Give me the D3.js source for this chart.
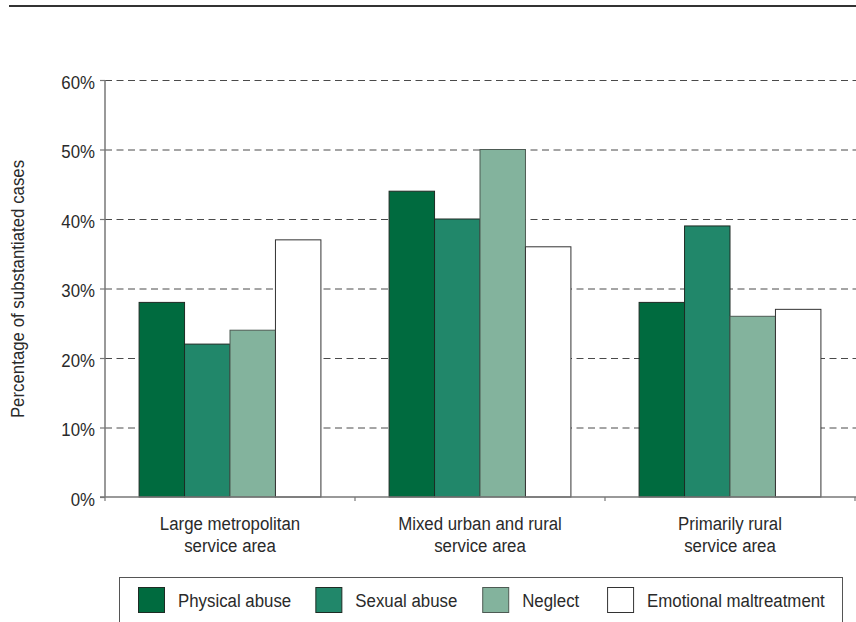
<!DOCTYPE html>
<html><head><meta charset="utf-8">
<script src="https://cdn.jsdelivr.net/npm/d3@7"></script>
<style>
body{margin:0;background:#fff;}
svg{display:block;}
text{font-family:"Liberation Sans",Arial,Helvetica,sans-serif;fill:#2a2a2a;}
</style></head><body>
<svg id="chart" width="856" height="622"></svg>
<script>
// ---- data ----
const categories = ["Large metropolitan|service area", "Mixed urban and rural|service area", "Primarily rural|service area"];
const seriesNames = ["Physical abuse", "Sexual abuse", "Neglect", "Emotional maltreatment"];
const physicalAbuse = [28, 44, 28];
const sexualAbuse = [22, 40, 39];
const neglect = [24, 50, 26];
const emotionalMaltreatment = [37, 36, 27];
const yTicks = [0, 10, 20, 30, 40, 50, 60];
const yTitle = "Percentage of substantiated cases";
const seriesColors = ["#006b3f", "#21876a", "#83b39d", "#ffffff"];
const seriesStrokes = ["#1e2b24", "#1e2b24", "#4d5a53", "#333333"];

const seriesValues = [physicalAbuse, sexualAbuse, neglect, emotionalMaltreatment];

const FS = 18, SQ = 0.935;
function condense(sel) {
  sel.each(function() {
    const L = this.getComputedTextLength();
    d3.select(this).attr("textLength", L * SQ).attr("lengthAdjust", "spacingAndGlyphs");
  });
}

const svg = d3.select("#chart");
const W = 856, H = 622;
const m = {left: 105, right: 1, top: 80, bottom: 497};

const x0 = d3.scaleBand().domain(d3.range(categories.length)).range([m.left, W - m.right]).padding(0);
const x1 = d3.scaleBand().domain(d3.range(seriesNames.length)).range([0, x0.bandwidth()]).paddingInner(0).paddingOuter(0.75);
const y = d3.scaleLinear().domain([0, 60]).range([m.bottom, m.top]);

// top rule
svg.append("line").attr("x1", 9).attr("x2", W).attr("y1", 6).attr("y2", 6)
  .attr("stroke", "#333").attr("stroke-width", 2);

// gridlines
svg.append("g").attr("transform", `translate(${m.left},0)`)
  .call(d3.axisLeft(y).tickValues(yTicks.filter(d => d > 0)).tickSize(-(W - m.left)).tickFormat(""))
  .call(g => g.select(".domain").remove())
  .call(g => g.selectAll("line").attr("stroke", "#4a4a4a").attr("stroke-dasharray", "7,4.5"));

// bars
const groups = svg.append("g").selectAll("g").data(seriesValues).join("g");
groups.each(function(vals, s) {
  d3.select(this).selectAll("rect").data(vals).join("rect")
    .attr("x", (d, i) => x0(i) + x1(s))
    .attr("y", d => y(d))
    .attr("width", x1.bandwidth())
    .attr("height", d => y(0) - y(d))
    .attr("fill", seriesColors[s])
    .attr("stroke", seriesStrokes[s])
    .attr("stroke-width", 1);
});

// y axis
const yAxis = svg.append("g").attr("transform", `translate(${m.left},0)`)
  .call(d3.axisLeft(y).tickValues(yTicks).tickSize(5).tickPadding(5).tickFormat(d => d + "%"));
yAxis.select(".domain").attr("stroke", "#777").attr("stroke-width", 1.5).attr("d", `M0,${m.top}V${m.bottom}`);
yAxis.selectAll(".tick line").attr("stroke", "#777").attr("stroke-width", 1.2);
yAxis.selectAll(".tick text").attr("font-size", FS).attr("fill", "#2a2a2a")
  .attr("font-family", null).attr("dy", "0.47em").call(condense);

// x axis
const xAxis = svg.append("g").attr("transform", `translate(0,${m.bottom})`)
  .call(d3.axisBottom(x0).tickSize(0).tickFormat(""));
xAxis.select(".domain").attr("stroke", "#777").attr("stroke-width", 1.5).attr("d", `M${m.left - 5},0H${W}`);
const bounds = d3.range(categories.length + 1).map(i => m.left + i * x0.step());
xAxis.selectAll(".bound").data(bounds).join("line").attr("class", "bound")
  .attr("x1", d => d).attr("x2", d => d).attr("y1", 0).attr("y2", 4)
  .attr("stroke", "#777").attr("stroke-width", 1.2);

// category labels
categories.forEach((c, i) => {
  const cx = x0(i) + x0.bandwidth() / 2;
  c.split("|").forEach((l, k) => {
    svg.append("text").attr("text-anchor", "middle").attr("font-size", FS)
      .attr("x", cx).attr("y", 530 + k * 22).text(l).call(condense);
  });
});

// y title
svg.append("text").attr("text-anchor", "middle").attr("font-size", FS)
  .attr("transform", `translate(24,289) rotate(-90)`)
  .text(yTitle).call(condense);

// legend
const lg = svg.append("g");
lg.append("rect").attr("x", 119.5).attr("y", 577.5).attr("width", 723).attr("height", 60)
  .attr("fill", "none").attr("stroke", "#555").attr("stroke-width", 1);
let lx = 138;
seriesNames.forEach((n, s) => {
  lg.append("rect").attr("x", lx + 0.5).attr("y", 587.5).attr("width", 26).attr("height", 25)
    .attr("fill", seriesColors[s]).attr("stroke", seriesStrokes[s]);
  const t = lg.append("text").attr("x", lx + 40).attr("y", 607).attr("font-size", FS).text(n).call(condense);
  lx = lx + 40 + t.node().getComputedTextLength() * SQ + 31.5;
});
</script>
</body></html>
